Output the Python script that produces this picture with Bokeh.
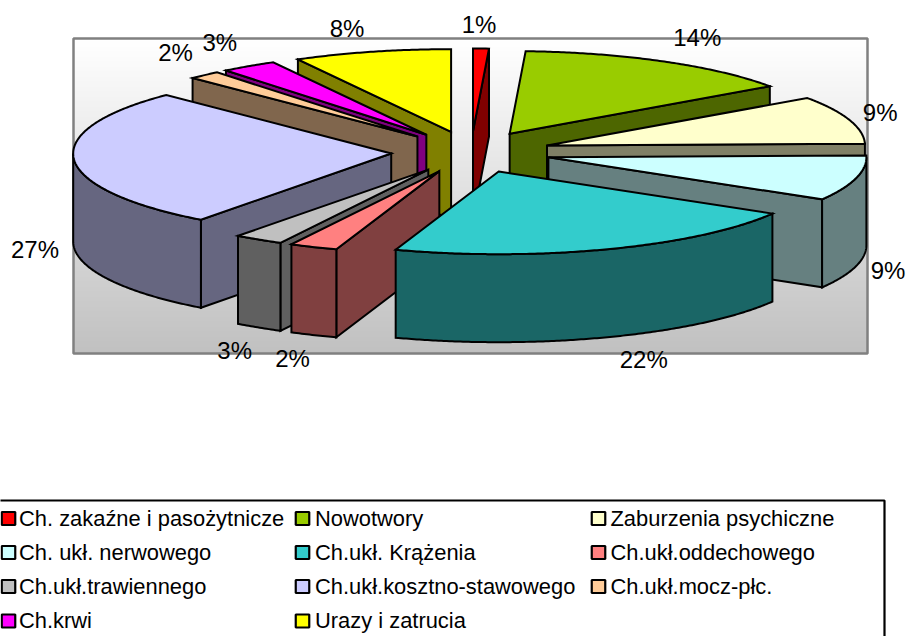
import math
import numpy as np
from bokeh.plotting import figure
from bokeh.models import Range1d
from bokeh.core.properties import value
from bokeh.embed import file_html
from bokeh.resources import INLINE

categories = ["Ch. zakaźne i pasożytnicze", "Nowotwory", "Zaburzenia psychiczne",
              "Ch. ukł. nerwowego", "Ch.ukł. Krążenia", "Ch.ukł.oddechowego",
              "Ch.ukł.trawiennego", "Ch.ukł.kosztno-stawowego", "Ch.ukł.mocz-płc.",
              "Ch.krwi", "Urazy i zatrucia"]
shares = [0.8, 14.45, 9.4, 8.85, 21.75, 2.45, 2.51, 27.29, 1.65, 2.85, 8.0]
colors = ["#FF0000", "#99CC00", "#FFFFCC", "#CCFFFF", "#33CCCC", "#FF8080",
          "#C0C0C0", "#CCCCFF", "#FFCC99", "#FF00FF", "#FFFF00"]
wall_colors = ["#800000", "#4D6600", "#808066", "#668080", "#1A6666", "#804040",
               "#606060", "#666680", "#80664D", "#800080", "#808000"]

# layout of the pseudo-3D pie, in page pixels
CX, CY, RADIUS, TILT, EXPLODE, DEPTH = 470.5, 151.5, 318.0, 0.26, 80.0, 88.0
label_dx = [-2, 34, 31, 32, 35, -21, -24, -39, -29, -29, -25]
label_dy = [-24, -24, -7, 92, 110, 111, 111, 90, -23, -24, -23]

p = figure(width=906, height=636, x_range=Range1d(0, 906), y_range=Range1d(636, 0),
           toolbar_location=None, output_backend="svg", min_border=0,
           outline_line_color=None, background_fill_color="white",
           border_fill_color="white")
p.axis.visible = False
p.grid.visible = False

# plot area with grey gradient
PL, PR, PT, PB = 73, 867, 38, 353
edges = np.arange(PT, PB + 1)
t = (edges[:-1] - PT) / (PB - PT)
grey = [int(round(255 - 63 * v)) for v in t]
p.quad(left=PL, right=PR, top=edges[:-1], bottom=edges[1:] + 0.5,
       fill_color=[f"#{g:02X}{g:02X}{g:02X}" for g in grey], line_color=None)
p.quad(left=[PL], right=[PR], top=[PT], bottom=[PB], fill_color=None,
       line_color="#808080", line_width=2.5)


def proj(angle_deg, r):
    a = math.radians(angle_deg)
    return r * math.sin(a), -TILT * r * math.cos(a)


total = sum(shares)
starts, ends, run = [], [], 0.0
for s in shares:
    starts.append(run / total * 360)
    run += s
    ends.append(run / total * 360)

mids = [(a + b) / 2 for a, b in zip(starts, ends)]
order = sorted(range(len(shares)), key=lambda i: min(mids[i], 360 - mids[i]))

xs, ys, fills = [], [], []
for i in order:
    a0, a1, m = starts[i], ends[i], mids[i]
    ox, oy = proj(m, EXPLODE)
    ax, ay = CX + ox, CY + oy
    arc = np.linspace(a0, a1, max(3, int(a1 - a0) * 2 + 2))
    top_x = [ax + proj(a, RADIUS)[0] for a in arc]
    top_y = [ay + proj(a, RADIUS)[1] for a in arc]
    # radial walls seen from the front
    for edge, visible in ((a0, math.sin(math.radians(a0)) < 0), (a1, math.sin(math.radians(a1)) > 0)):
        if visible:
            ex, ey = proj(edge, RADIUS)
            xs.append([ax, ax + ex, ax + ex, ax])
            ys.append([ay, ay + ey, ay + ey + DEPTH, ay + DEPTH])
            fills.append(wall_colors[i])
    # outer rim seen from the front
    lo, hi = max(a0, 90), min(a1, 270)
    if hi > lo:
        rim = np.linspace(lo, hi, max(3, int(hi - lo) * 2 + 2))
        rx = [ax + proj(a, RADIUS)[0] for a in rim]
        ry = [ay + proj(a, RADIUS)[1] for a in rim]
        xs.append(rx + rx[::-1])
        ys.append(ry + [y + DEPTH for y in ry[::-1]])
        fills.append(wall_colors[i])
    xs.append([ax] + top_x)
    ys.append([ay] + top_y)
    fills.append(colors[i])

p.patches(xs, ys, fill_color=fills, line_color="black", line_width=2, line_join="miter")

# percentage labels
lx, ly, lt = [], [], []
for i, s in enumerate(shares):
    ox, oy = proj(mids[i], EXPLODE + RADIUS)
    lx.append(CX + ox + label_dx[i])
    ly.append(CY + oy + label_dy[i])
    lt.append(f"{round(s / total * 100)}%")
p.text(lx, ly, text=lt, text_font=value("Liberation Sans"), text_font_size="24px",
       text_color="black", text_align="center", text_baseline="middle")

# legend
LEG_L, LEG_R, LEG_T, LEG_B = -4, 884, 500, 642
p.quad(left=[LEG_L], right=[LEG_R], top=[LEG_T], bottom=[LEG_B], fill_color="white",
       line_color="black", line_width=2.2)
col_x = [8, 302, 598]
text_x = [18.5, 314.5, 610]
row_y = [518, 552, 586, 620.5]
sx, sy, tx, ty = [], [], [], []
for i in range(len(categories)):
    c, r = i % 3, i // 3
    sx.append(col_x[c])
    sy.append(row_y[r])
    tx.append(text_x[c])
    ty.append(row_y[r] - 0.5)
p.rect(sx, sy, width=13.5, height=13, fill_color=colors, line_color="black", line_width=2.2)
p.text(tx, ty, text=categories, text_font=value("Liberation Sans"), text_font_size="21.9px",
       text_color="black", text_align="left", text_baseline="middle")

open("out.html", "w").write(file_html(p, INLINE))
